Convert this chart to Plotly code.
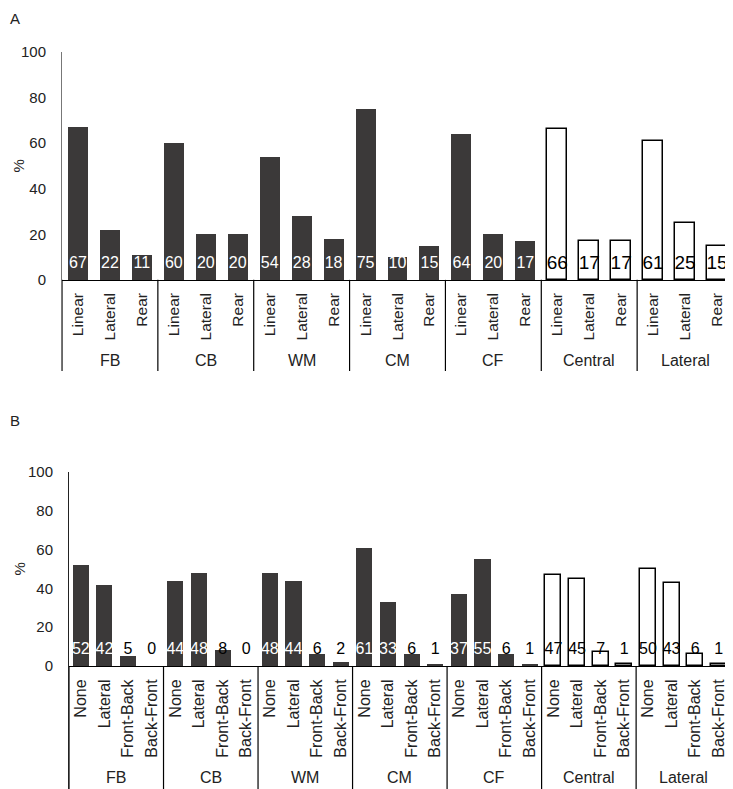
import plotly.graph_objects as go

# panel A: movement direction per playing position
groups = ['FB', 'CB', 'WM', 'CM', 'CF', 'Central', 'Lateral']
cats_a = ['Linear', 'Lateral', 'Rear']
vals_a = [67, 22, 11,
          60, 20, 20,
          54, 28, 18,
          75, 10, 15,
          64, 20, 17,
          66, 17, 17,
          61, 25, 15]

# panel B: turn type per playing position
cats_b = ['None', 'Lateral', 'Front-Back', 'Back-Front']
vals_b = [52, 42, 5, 0,
          44, 48, 8, 0,
          48, 44, 6, 2,
          61, 33, 6, 1,
          37, 55, 6, 1,
          47, 45, 7, 1,
          50, 43, 6, 1]

# groups drawn as white bars
open_groups = ['Central', 'Lateral']

# page body keeps an 8px margin, so the figure is shrunk by that amount
OFF = 8
W, H = 733 - OFF, 789 - OFF
FONT = 'Liberation Sans, Arial, Helvetica, sans-serif'
DARK = '#3b3939'
TXT = '#222222'


def px(sx):
    return (sx - OFF) / W


def py(sy):
    return 1 - (sy - OFF) / H


def add_panel(fig, cats, vals, xa, ya, yrange, xdomain, ydomain, bar_w,
              label_y, label_size, open_size, cat_size, group_y, axis_col, xr_end):
    n_cat = len(cats)
    n = len(vals)
    xs = list(range(n))
    ticktext = cats * len(groups)
    is_open = [groups[i // n_cat] in open_groups for i in range(n)]
    fill = ['white' if o else DARK for o in is_open]
    line_col = ['black' if o else DARK for o in is_open]
    line_w = [1.5 if o else 0 for o in is_open]

    fig.add_trace(go.Bar(x=xs, y=vals, width=bar_w, xaxis=xa, yaxis=ya,
                         marker=dict(color=fill, line=dict(color=line_col, width=line_w)),
                         showlegend=False, hoverinfo='skip'))

    # value labels sitting near the bottom of each bar
    tcol = ['white' if (not o and v >= 10) else 'black' for o, v in zip(is_open, vals)]
    tsize = [open_size if o else label_size for o in is_open]
    fig.add_trace(go.Scatter(x=xs, y=[label_y] * n, text=[str(v) for v in vals],
                             mode='text', xaxis=xa, yaxis=ya, cliponaxis=False,
                             textfont=dict(color=tcol, size=tsize, family=FONT),
                             showlegend=False, hoverinfo='skip'))

    r0, r1 = yrange
    zero_pos = ydomain[0] + (0 - r0) / (r1 - r0) * (ydomain[1] - ydomain[0])
    xkey = 'xaxis' if xa == 'x' else 'xaxis' + xa[1:]
    ykey = 'yaxis' if ya == 'y' else 'yaxis' + ya[1:]
    fig.update_layout(**{
        xkey: dict(domain=xdomain, range=[-0.5, xr_end], anchor='free', position=zero_pos,
                   showline=True, linecolor='black', linewidth=1, showgrid=False,
                   zeroline=False, tickmode='array', tickvals=xs, ticktext=ticktext,
                   tickangle=-90, ticks='', ticklabelstandoff=6, automargin=False,
                   tickfont=dict(size=cat_size, color=TXT, family=FONT)),
        ykey: dict(domain=ydomain, range=list(yrange), anchor=xa, showline=True,
                   linecolor=axis_col, linewidth=1, showgrid=False, zeroline=False,
                   tickmode='array', tickvals=[0, 20, 40, 60, 80, 100], ticks='',
                   ticklabelstandoff=12, automargin=False,
                   tickfont=dict(size=15, color=TXT, family=FONT)),
    })

    for g in range(len(groups) + 1):
        xb = -0.5 + g * n_cat
        fig.add_shape(type='line', xref=xa, yref=ya, x0=xb, x1=xb, y0=r0, y1=0,
                      line=dict(color='black', width=1.2), layer='above')
    for g, name in enumerate(groups):
        fig.add_annotation(x=g * n_cat + (n_cat - 1) / 2, y=group_y, xref=xa, yref=ya,
                           text=name, showarrow=False,
                           font=dict(size=16, color=TXT, family=FONT))
    fig.add_annotation(x=0, y=50, xref='paper', yref=ya, text='%', textangle=-90,
                       xanchor='left', showarrow=False,
                       font=dict(size=15, color=TXT, family=FONT))


fig = go.Figure()

add_panel(fig, cats_a, vals_a, 'x', 'y', (-40, 100),
          [px(62), 1], [py(371), py(52)], 0.625,
          7, 16, 19, 15.5, -35.5, '#777777', 20.5)
add_panel(fig, cats_b, vals_b, 'x2', 'y2', (-63.4, 100),
          [px(69), 1], [0, py(472)], 0.68,
          8.2, 16, 16, 16, -57.7, '#222222', 27.6)

fig.add_annotation(x=0, y=1, xref='paper', yref='paper', text='A',
                   xanchor='left', yanchor='top', showarrow=False,
                   font=dict(size=15, color=TXT, family=FONT))
fig.add_annotation(x=0, y=py(420), xref='paper', yref='paper', text='B',
                   xanchor='left', yanchor='middle', showarrow=False,
                   font=dict(size=15, color=TXT, family=FONT))

fig.update_layout(width=W, height=H, margin=dict(l=0, r=0, t=0, b=0, autoexpand=False),
                  plot_bgcolor='white', paper_bgcolor='white', bargap=0,
                  font=dict(family=FONT, color=TXT))

fig.write_html("out.html")
